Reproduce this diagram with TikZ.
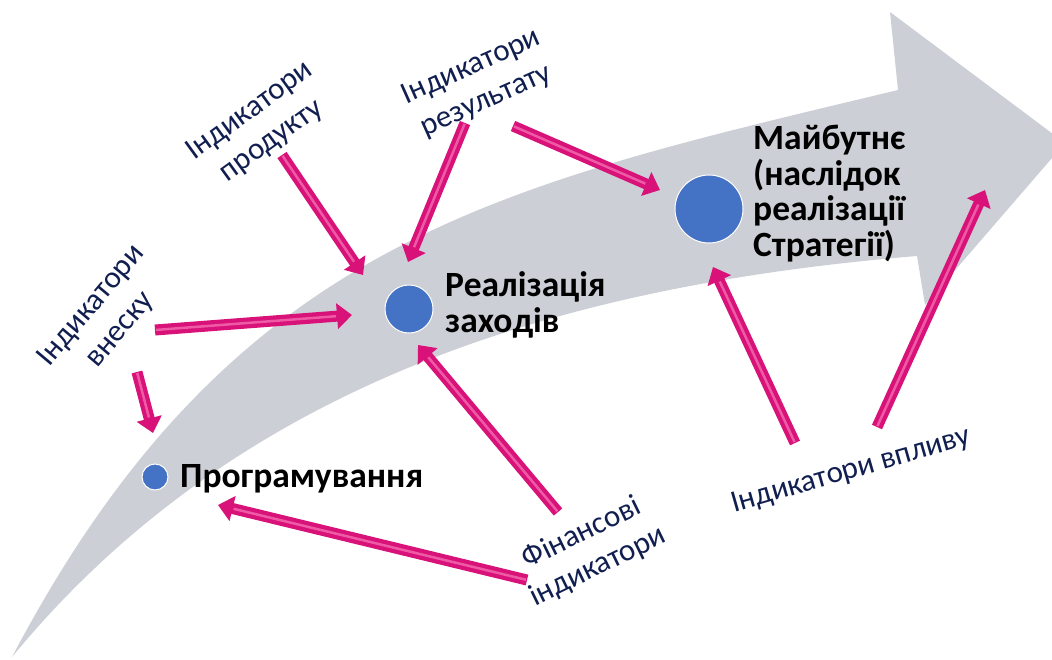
\documentclass[tikz,border=0pt]{standalone}
\usepackage{fontspec}
\setmainfont{Carlito}
\usetikzlibrary{arrows.meta}
\definecolor{arrgrey}{RGB}{205,207,214}
\definecolor{pinkc}{RGB}{216,18,120}
\definecolor{pinkl}{RGB}{238,90,165}
\definecolor{navy}{RGB}{16,30,80}
\definecolor{dotblue}{RGB}{68,114,196}
\begin{document}
\begin{tikzpicture}[x=1pt,y=-1pt,
  lbl/.style={text=navy, font=\fontsize{31}{37}\selectfont, align=center, inner sep=0pt},
  boldtxt/.style={font=\fontsize{35.5}{35.5}\selectfont\bfseries, align=left, inner sep=0pt, anchor=base west},
  dot/.style={circle, fill=dotblue, draw=white, line width=1pt, inner sep=0pt},
  pshaft/.style={line width=11pt, draw=pinkc, -{Triangle[width=25pt,length=15pt]}},
  phigh/.style={line width=2.5pt, draw=pinkl, shorten >=16pt, shorten <=1pt}]
\useasboundingbox (0,0) rectangle (1052,659);
\begin{scope}
\clip (0,0) rectangle (1052,659);
\fill[arrgrey] (12,657) .. controls (232,239) and (498,186) .. (898,90)
  -- (890,12) -- (1065,143) -- (925,305) -- (917,256)
  .. controls (567,285) and (240,380) .. (12,657) -- cycle;
\end{scope}
% dots
\node[dot, minimum size=26pt] (prog) at (155,477) {};
\node[dot, minimum size=48pt] (real) at (409,309) {};
\node[dot, minimum size=68pt] (fut) at (709,209) {};
% bold texts (anchor = baseline of the last line)
\node[boldtxt] (progt) at (180,487) {Програмування};
\node[boldtxt] (realt) at (445,332) {Реалізація\\заходів};
\node[boldtxt] (futt) at (753,256) {Майбутнє\\(наслідок\\реалізації\\Стратегії)};
% labels
\node[lbl, rotate=50] (vnesku) at (106,318) {Індикатори\\внеску};
\node[lbl, rotate=36] (produktu) at (261,126) {Індикатори\\продукту};
\node[lbl, rotate=24] (rezult) at (479,84) {Індикатори\\результату};
\node[lbl, rotate=26] (fin) at (590,550) {Фінансові\\індикатори};
\node[lbl, rotate=16] (vplyvu) at (851,471) {Індикатори впливу};
% arrow ends
\coordinate (t1) at (282,155); \coordinate (h1) at (363,275);
\coordinate (t2) at (465,123); \coordinate (h2) at (408,262);
\coordinate (t3) at (513,126); \coordinate (h3) at (660,190);
\coordinate (t4) at (155,330); \coordinate (h4) at (352,315);
\coordinate (t5) at (137,372); \coordinate (h5) at (153,433);
\coordinate (t6) at (558,512); \coordinate (h6) at (418,345);
\coordinate (t7) at (527,580); \coordinate (h7) at (218,505);
\coordinate (t8) at (795,443); \coordinate (h8) at (713,267);
\coordinate (t9) at (877,427); \coordinate (h9) at (985,190);
\foreach \i in {1,...,9}{
  \draw[pshaft] (t\i) -- (h\i);
  \draw[phigh] (t\i) -- (h\i);
}
\end{tikzpicture}
\end{document}
